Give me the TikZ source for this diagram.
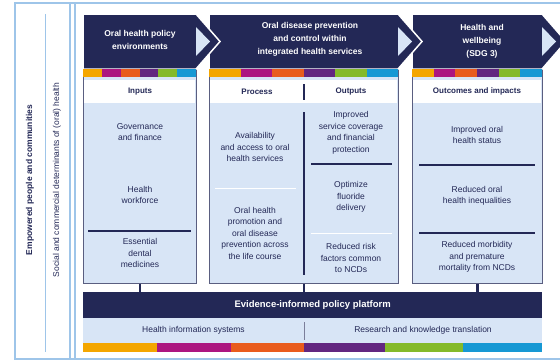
\documentclass[tikz,border=0pt]{standalone}
\usepackage{fontspec}
\setmainfont{Liberation Sans}
\usepackage{xcolor}
\usetikzlibrary{positioning}

\definecolor{navy}{RGB}{35,40,86}
\definecolor{paleblue}{RGB}{216,229,246}
\definecolor{framebl}{RGB}{158,197,233}
\definecolor{sOrange}{RGB}{244,166,0}
\definecolor{sMagenta}{RGB}{172,22,128}
\definecolor{sRed}{RGB}{233,92,30}
\definecolor{sPurple}{RGB}{98,38,128}
\definecolor{sGreen}{RGB}{132,186,42}
\definecolor{sBlue}{RGB}{22,152,212}

\tikzset{
	hdtext/.style={text=white, font=\fontsize{8.5}{13}\selectfont\bfseries, align=center},
	lbl/.style={text=navy, font=\fontsize{8}{10}\selectfont\bfseries, align=center},
	item/.style={text=navy, font=\fontsize{8.5}{11.5}\selectfont, align=center},
	vtext/.style={text=navy, font=\fontsize{8.5}{10}\selectfont, rotate=90},
	colbody/.style={draw=navy!75, line width=0.8pt, fill=paleblue, anchor=north west, inner sep=0pt, minimum height=214pt},
	frameline/.style={draw=framebl, line width=2pt},
	sepline/.style={draw=navy, line width=1.4pt},
	faintline/.style={draw=white, line width=1pt},
	stub/.style={draw=navy, line width=2.5pt},
}

\begin{document}
\begin{tikzpicture}[x=1pt,y=-1pt]
		\useasboundingbox (0,0) rectangle (560,362);
		
		\draw[frameline] (15,3) rectangle (580,359);
		\draw[framebl, line width=1pt] (45,14) -- (45,352);
		\draw[frameline] (70,3) -- (70,359);
		\draw[frameline] (75,3) -- (75,359);
		
		\node[vtext, font=\fontsize{8.5}{10}\selectfont\bfseries] (people) at (30,180) {Empowered people and communities};
		\node[vtext] (determ) at (57,180) {Social and commercial determinants of (oral) health};
		
		% columns
		\node[colbody, minimum width=113pt] (body1) at (83,69) {};
		\node[colbody, minimum width=189pt] (body2) at (209,69) {};
		\node[colbody, minimum width=130pt] (body3) at (412,69) {};
		
		\foreach \x/\w in {412/130, 209/189, 83/113}
		{
			\filldraw[fill=navy, draw=white, line width=1.5pt]
			(\x,14) -- (\x+\w,14) -- (\x+\w+24,41.5) -- (\x+\w,69) -- (\x,69) -- cycle;
			\fill[paleblue] (\x+\w,27) -- (\x+\w+14,41.5) -- (\x+\w,56) -- cycle;
			\foreach \col [count=\i from 0] in {sOrange,sMagenta,sRed,sPurple,sGreen,sBlue}
			\fill[\col] (\x+\i*\w/6,69) rectangle (\x+\i*\w/6+\w/6,77);
			\fill[white] (\x+1,80) rectangle (\x+\w-1,103);
		}
		
		\node[hdtext] (hd1) at (140,40) {Oral health policy\\environments};
		\node[hdtext] (hd2) at (310,39) {Oral disease prevention\\and control within\\integrated health services};
		\node[hdtext] (hd3) at (482,41) {Health and\\wellbeing\\(SDG 3)};
		
		\node[lbl] (inputs) at (140,91.5) {Inputs};
		\node[lbl] (process) at (257,91.5) {Process};
		\node[lbl] (outputs) at (351,91.5) {Outputs};
		\node[lbl] (outcomes) at (477,91.5) {Outcomes and impacts};
		\draw[sepline] (304,84) -- (304,100);
		
		\node[item] (gov) at (140,132) {Governance\\and finance};
		\node[item] (workforce) at (140,195) {Health\\workforce};
		\draw[sepline] (88,231) -- (191,231);
		\node[item] (medicines) at (140,253) {Essential\\dental\\medicines};
		
		\node[item] (access) at (255,147) {Availability\\and access to oral\\health services};
		\draw[faintline] (215,188) -- (296,188);
		\node[item] (promo) at (255,233) {Oral health\\promotion and\\oral disease\\prevention across\\the life course};
		\draw[sepline] (304,112) -- (304,275);
		
		\node[item] (coverage) at (351,133) {Improved\\service coverage\\and financial\\protection};
		\draw[sepline] (311,164) -- (392,164);
		\node[item] (fluoride) at (351,197) {Optimize\\fluoride\\delivery};
		\draw[faintline] (311,233) -- (392,233);
		\node[item] (risk) at (351,258) {Reduced risk\\factors common\\to NCDs};
		
		\node[item] (status) at (477,135) {Improved oral\\health status};
		\draw[sepline] (419,165) -- (535,165);
		\node[item] (inequal) at (477,196) {Reduced oral\\health inequalities};
		\draw[sepline] (419,233) -- (535,233);
		\node[item] (mortality) at (477,257) {Reduced morbidity\\and premature\\mortality from NCDs};
		
		% platform
		\node[fill=navy, anchor=north west, inner sep=0pt, minimum width=459pt, minimum height=26pt,
		text=white, font=\fontsize{9.5}{11}\selectfont\bfseries] (platform) at (83,292) {Evidence-informed policy platform};
		\fill[paleblue] (83,318) rectangle (542,343);
		\draw[navy!60, line width=0.8pt] (304,322) -- (304,340);
		\node[item] (his) at (193.5,330.5) {Health information systems};
		\node[item] (research) at (423,330.5) {Research and knowledge translation};
		
		\foreach \col/\a/\b in {sOrange/83/157, sMagenta/157/231, sRed/231/304, sPurple/304/385, sGreen/385/463, sBlue/463/542}
		\fill[\col] (\a,343) rectangle (\b,352);
		
		\foreach \b in {body1,body2,body3}
		\draw[stub] (\b.south) -- (\b.south |- platform.north);
\end{tikzpicture}
\end{document}
